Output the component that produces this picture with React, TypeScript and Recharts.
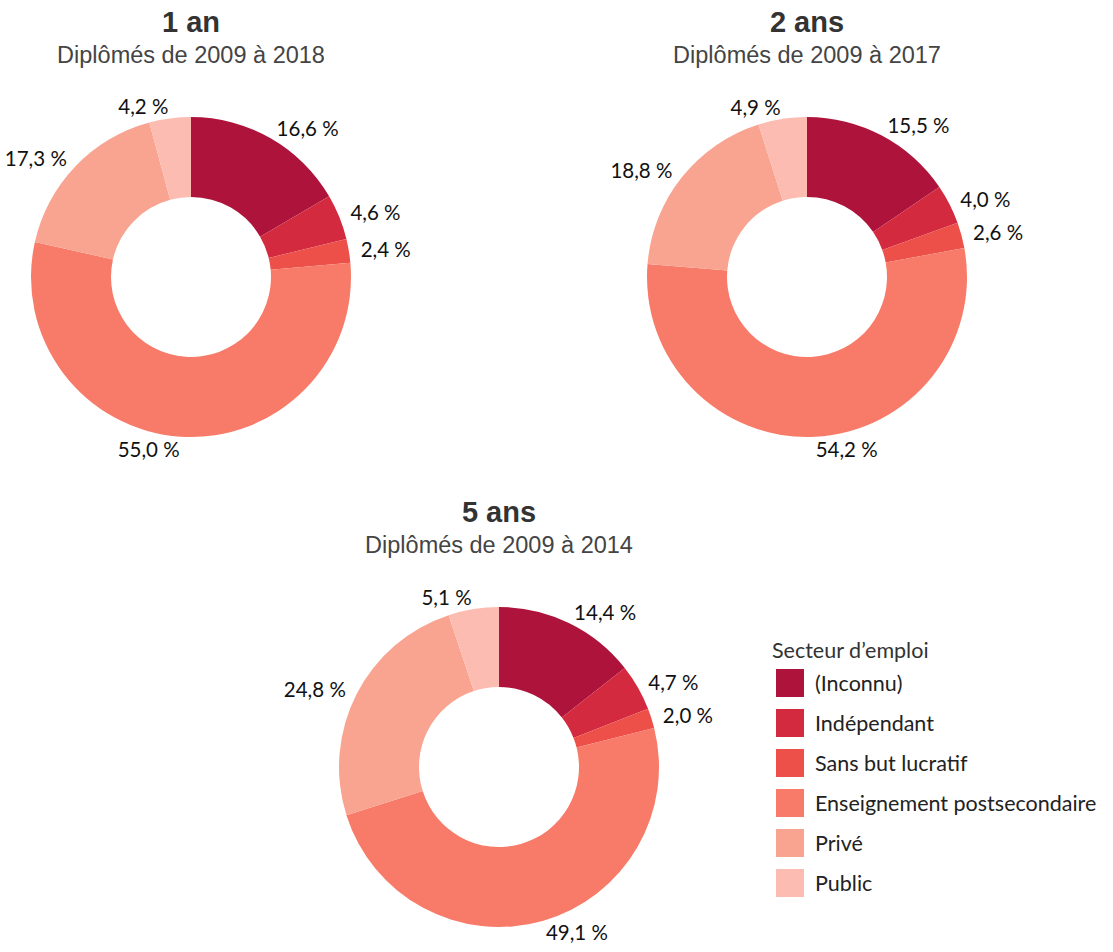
import { Cell, Pie, PieChart } from "recharts";

const secteurs = ["(Inconnu)", "Indépendant", "Sans but lucratif", "Enseignement postsecondaire", "Privé", "Public"];
const couleurs = ["#ae143b", "#d42a40", "#ec5049", "#f77b68", "#f9a391", "#fdbcb1"];

const un_an = [16.6, 4.6, 2.4, 55.0, 17.3, 4.2];
const deux_ans = [15.5, 4.0, 2.6, 54.2, 18.8, 4.9];
const cinq_ans = [14.4, 4.7, 2.0, 49.1, 24.8, 5.1];

const titres = ["1 an", "2 ans", "5 ans"];
const sousTitres = ["Diplômés de 2009 à 2018", "Diplômés de 2009 à 2017", "Diplômés de 2009 à 2014"];

const toRows = (vals: number[]) => secteurs.map((name, i) => ({ name, value: vals[i] }));

const panels = [
  { data: toRows(un_an), cx: 191, cy: 277 },
  { data: toRows(deux_ans), cx: 807, cy: 277 },
  { data: toRows(cinq_ans), cx: 499, cy: 767 }
];

const RAD = Math.PI / 180;
const labelFont = "Lato, 'Open Sans', sans-serif";
const titleFont = "'Liberation Sans', Arial, sans-serif";

function renderLabel(props: any) {
  const { cx, cy, midAngle, outerRadius, value } = props;
  const r = outerRadius + 12;
  const cos = Math.cos(-midAngle * RAD);
  const x = cx + r * cos;
  const y = cy + r * Math.sin(-midAngle * RAD);
  return (
    <text
      x={x}
      y={y}
      textAnchor={cos >= 0 ? "start" : "end"}
      dominantBaseline="central"
      fontFamily={labelFont}
      fontSize={20.5}
      fill="#111"
    >
      {value.toFixed(1).replace(".", ",") + " %"}
    </text>
  );
}

export default function App() {
  return (
    <div style={{ position: "absolute", left: 0, top: 0, width: 1113, height: 952, background: "#fff" }}>
      <PieChart width={1113} height={952} margin={{ top: 0, right: 0, bottom: 0, left: 0 }}>
        {panels.map((p, k) => (
          <Pie
            key={k}
            data={p.data}
            dataKey="value"
            nameKey="name"
            cx={p.cx}
            cy={p.cy}
            innerRadius={80}
            outerRadius={160}
            startAngle={90}
            endAngle={-270}
            label={renderLabel}
            labelLine={false}
            isAnimationActive={false}
          >
            {p.data.map((d, i) => (
              <Cell key={d.name} fill={couleurs[i]} stroke="none" />
            ))}
          </Pie>
        ))}
        {panels.map((p, k) => (
          <g key={"t" + k}>
            <text x={p.cx} y={p.cy - 255} textAnchor="middle" dominantBaseline="central" fontFamily={titleFont} fontWeight="bold" fontSize={29} fill="#333">
              {titres[k]}
            </text>
            <text x={p.cx} y={p.cy - 222} textAnchor="middle" dominantBaseline="central" fontFamily={titleFont} fontSize={23.5} fill="#444">
              {sousTitres[k]}
            </text>
          </g>
        ))}
      </PieChart>
      <div style={{ position: "absolute", left: 772, top: 637, fontFamily: labelFont, color: "#333" }}>
        <div style={{ fontSize: 21.5, height: 26, lineHeight: "26px" }}>Secteur d’emploi</div>
        {secteurs.map((s, i) => (
          <div key={s} style={{ display: "flex", alignItems: "center", height: 40, marginLeft: 4 }}>
            <div style={{ width: 28, height: 28, background: couleurs[i], marginRight: 11 }} />
            <span style={{ fontSize: 21.5, color: "#222", whiteSpace: "nowrap" }}>{s}</span>
          </div>
        ))}
      </div>
    </div>
  );
}
